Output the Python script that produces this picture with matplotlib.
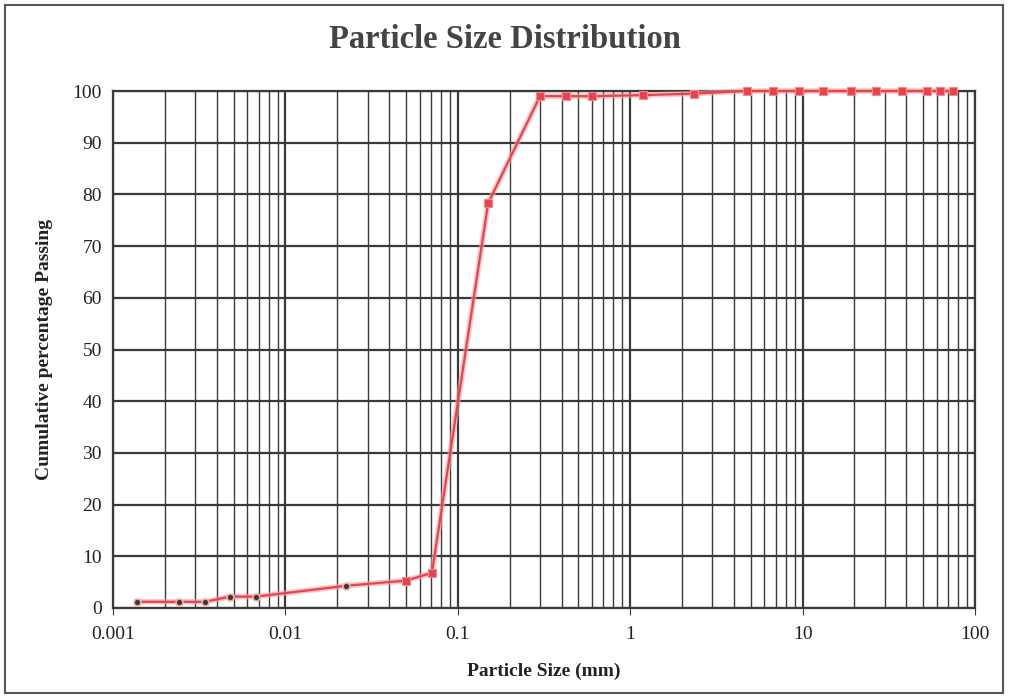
import matplotlib
matplotlib.use("Agg")
import matplotlib.pyplot as plt
from matplotlib.patches import Rectangle
from matplotlib.ticker import LogLocator, FixedLocator, NullFormatter

# Hydrometer data (fine fraction)
hydro_size = [0.00138, 0.00242, 0.00342, 0.00477, 0.00676, 0.0225]
hydro_pass = [1.2, 1.2, 1.2, 2.2, 2.2, 4.3]
# Sieve data
sieve_size = [0.0501, 0.0708, 0.15, 0.3, 0.425, 0.6, 1.18, 2.36, 4.75, 6.7, 9.5,
              13.2, 19.0, 26.5, 37.5, 53.0, 63.0, 75.0]
sieve_pass = [5.3, 6.8, 78.3, 99.0, 99.0, 99.0, 99.2, 99.5, 100, 100, 100,
              100, 100, 100, 100, 100, 100, 100]

x_ticks = [0.001, 0.01, 0.1, 1, 10, 100]
x_tick_labels = ["0.001", "0.01", "0.1", "1", "10", "100"]
y_ticks = list(range(0, 101, 10))

plt.rcParams['font.family'] = ['Liberation Serif', 'DejaVu Serif']

fig = plt.figure(figsize=(10.09, 6.98), dpi=100)
ax = fig.add_axes([113/1009, 90/698, 862/1009, 517/698])

line_color = '#e8434c'
all_size = hydro_size + sieve_size
all_pass = hydro_pass + sieve_pass
ax.plot(all_size, all_pass, color='#f4a0a4', lw=4, alpha=0.6, zorder=3, clip_on=False)
ax.plot(all_size, all_pass, color=line_color, lw=1.6, zorder=4, clip_on=False)
ax.plot(hydro_size, hydro_pass, 'o', color='#3a3a3a', ms=5, mec='#f0b0b0', mew=1.2, zorder=5, clip_on=False)
ax.plot(sieve_size, sieve_pass, 's', color=line_color, ms=6, mec='#f08a90', mew=0.8, zorder=5, clip_on=False)

ax.set_xscale('log')
ax.set_xlim(0.001, 100)
ax.set_ylim(0, 100)
ax.xaxis.set_major_locator(FixedLocator(x_ticks))
ax.set_xticklabels(x_tick_labels)
ax.xaxis.set_minor_locator(LogLocator(base=10, subs=range(2, 10), numticks=100))
ax.xaxis.set_minor_formatter(NullFormatter())
ax.set_yticks(y_ticks)

ax.grid(True, which='major', color='#3a3a3a', lw=1.6)
ax.grid(True, which='minor', axis='x', color='#3a3a3a', lw=1.0)
ax.set_axisbelow(True)
for s in ax.spines.values():
    s.set_color('#3a3a3a')
    s.set_linewidth(1.6)

ax.tick_params(axis='both', which='both', length=0, labelsize=14, colors='#222222', pad=8)
ax.tick_params(axis='x', which='major', length=5, color='#3a3a3a')

ax.set_xlabel('Particle Size (mm)', fontsize=14, fontweight='bold', color='#222222', labelpad=14)
ax.set_ylabel('Cumulative percentage Passing', fontsize=14, fontweight='bold', color='#222222', labelpad=14)
fig.text(0.5, 1 - 40/698, 'Particle Size Distribution', ha='center', va='center',
         fontsize=23.5, fontweight='bold', color='#444444')

fig.patches.append(Rectangle((5/1009, 5/698), 998/1009, 688/698, transform=fig.transFigure,
                             fill=False, edgecolor='#555555', lw=1.5))

fig.savefig('out.png', dpi=100)
